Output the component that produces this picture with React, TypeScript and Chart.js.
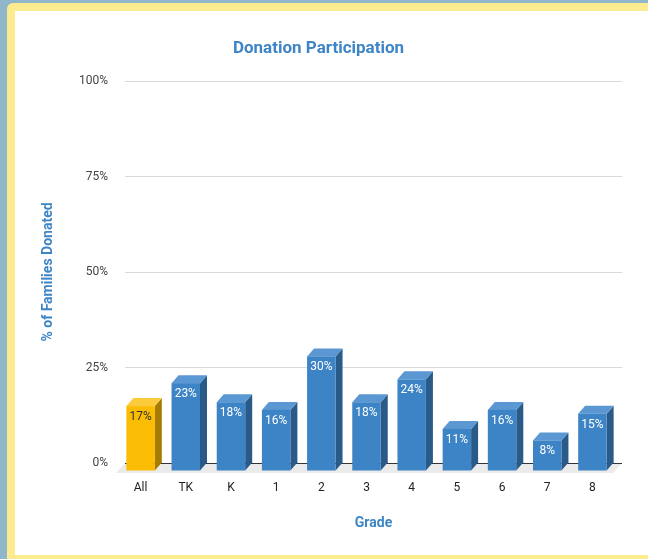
import React, { useEffect, useRef } from 'react';
import { Chart, registerables } from 'chart.js';

Chart.register(...registerables);

// ---- data ----
const categories = ['All', 'TK', 'K', '1', '2', '3', '4', '5', '6', '7', '8'];
const participation = [17, 23, 18, 16, 30, 18, 24, 11, 16, 8, 15];
const yTickValues = [0, 25, 50, 75, 100];
const chartTitle = 'Donation Participation';
const xTitle = 'Grade';
const yTitle = '% of Families Donated';

const BLUE = { front: '#3d84c6', top: '#5b97d2', side: '#295a88', text: '#ffffff' };
const GOLD = { front: '#fbbc04', top: '#fccb3c', side: '#a67c02', text: '#333333' };
const BAR_DX = 7;
const BAR_DY = 8;
const FLOOR_DX = 9;
const FLOOR_DY = 10;

export default function App() {
  const ref = useRef<HTMLCanvasElement>(null);

  useEffect(() => {
    if (!ref.current) return;
    Chart.defaults.font.family = 'Roboto';

    const bar3d = {
      id: 'bar3d',
      beforeDraw(chart: any) {
        const { ctx, chartArea } = chart;
        const { left, right, bottom } = chartArea;
        ctx.save();
        ctx.fillStyle = '#ebebeb';
        ctx.beginPath();
        ctx.moveTo(left, bottom);
        ctx.lineTo(right, bottom);
        ctx.lineTo(right - FLOOR_DX, bottom + FLOOR_DY);
        ctx.lineTo(left - FLOOR_DX, bottom + FLOOR_DY);
        ctx.closePath();
        ctx.fill();
        ctx.restore();
      },
      afterDatasetsDraw(chart: any) {
        const { ctx } = chart;
        const meta = chart.getDatasetMeta(0);
        ctx.save();
        meta.data.forEach((el: any, i: number) => {
          const p = el.getProps(['x', 'y', 'base', 'width'], true);
          const c = i === 0 ? GOLD : BLUE;
          const l = p.x - p.width / 2 - BAR_DX;
          const r = p.x + p.width / 2 - BAR_DX;
          const t = p.y + BAR_DY;
          const b = p.base + BAR_DY;
          // side
          ctx.fillStyle = c.side;
          ctx.beginPath();
          ctx.moveTo(r, t);
          ctx.lineTo(r + BAR_DX, t - BAR_DY);
          ctx.lineTo(r + BAR_DX, b - BAR_DY);
          ctx.lineTo(r, b);
          ctx.closePath();
          ctx.fill();
          // top
          ctx.fillStyle = c.top;
          ctx.beginPath();
          ctx.moveTo(l, t);
          ctx.lineTo(l + BAR_DX, t - BAR_DY);
          ctx.lineTo(r + BAR_DX, t - BAR_DY);
          ctx.lineTo(r, t);
          ctx.closePath();
          ctx.fill();
          // front
          ctx.fillStyle = c.front;
          ctx.fillRect(l, t, r - l, b - t);
          // label
          ctx.fillStyle = c.text;
          ctx.font = '12px Roboto';
          ctx.textAlign = 'center';
          ctx.textBaseline = 'middle';
          ctx.fillText(participation[i] + '%', (l + r) / 2, t + 11);
        });
        ctx.restore();
      },
    };

    const chart = new Chart(ref.current, {
      type: 'bar',
      data: {
        labels: categories,
        datasets: [
          {
            data: participation,
            backgroundColor: 'rgba(0,0,0,0)',
            borderWidth: 0,
            barPercentage: 0.63,
            categoryPercentage: 1,
          },
        ],
      },
      options: {
        animation: false,
        responsive: false,
        maintainAspectRatio: false,
        events: [],
        layout: { padding: { left: 0, right: 26, top: 0, bottom: 0 } },
        plugins: {
          legend: { display: false },
          tooltip: { enabled: false },
          title: {
            display: true,
            text: chartTitle,
            color: '#3d85c6',
            font: { size: 17, weight: 'bold', family: 'Roboto' },
            padding: { top: 28, bottom: 21.6 },
          },
        },
        scales: {
          x: {
            type: 'category',
            grid: { display: false, drawTicks: false },
            border: { display: false },
            ticks: {
              color: '#222222',
              font: { size: 12, family: 'Roboto' },
              padding: 18,
              labelOffset: -BAR_DX,
              maxRotation: 0,
            },
            title: {
              display: true,
              text: xTitle,
              color: '#3d85c6',
              font: { size: 14, weight: 'bold', family: 'Roboto' },
              padding: { top: 0, bottom: 23.6 },
            },
            afterFit(scale: any) {
              scale.height = 92;
            },
          },
          y: {
            min: 0,
            max: 100,
            afterBuildTicks(scale: any) {
              scale.ticks = yTickValues.map((v) => ({ value: v }));
            },
            grid: {
              drawTicks: false,
              color: (ctx: any) => (ctx.tick && ctx.tick.value === 0 ? '#333333' : '#d9d9d9'),
              lineWidth: 1,
            },
            border: { display: false },
            ticks: {
              color: '#444444',
              font: { size: 12, family: 'Roboto' },
              padding: 17,
              callback: (v: any) => v + '%',
            },
            title: {
              display: true,
              text: yTitle,
              color: '#3d85c6',
              font: { size: 14, weight: 'bold', family: 'Roboto' },
              padding: { top: 24.6, bottom: 0 },
            },
            afterFit(scale: any) {
              scale.width = 110;
            },
          },
        },
      },
      plugins: [bar3d],
    } as any);

    return () => chart.destroy();
  }, []);

  return (
    <div style={{ position: 'fixed', left: 0, top: 0, width: 648, height: 559, background: '#8fb6c9', overflow: 'hidden' }}>
      <div style={{ position: 'absolute', left: 7, top: 3, width: 700, height: 600, background: '#fdeb8f', borderTopLeftRadius: 6 }} />
      <div style={{ position: 'absolute', left: 15, top: 11, width: 700, height: 544, background: '#ffffff' }}>
        <canvas ref={ref} width={633} height={544} style={{ display: 'block', width: 633, height: 544 }} />
      </div>
    </div>
  );
}
